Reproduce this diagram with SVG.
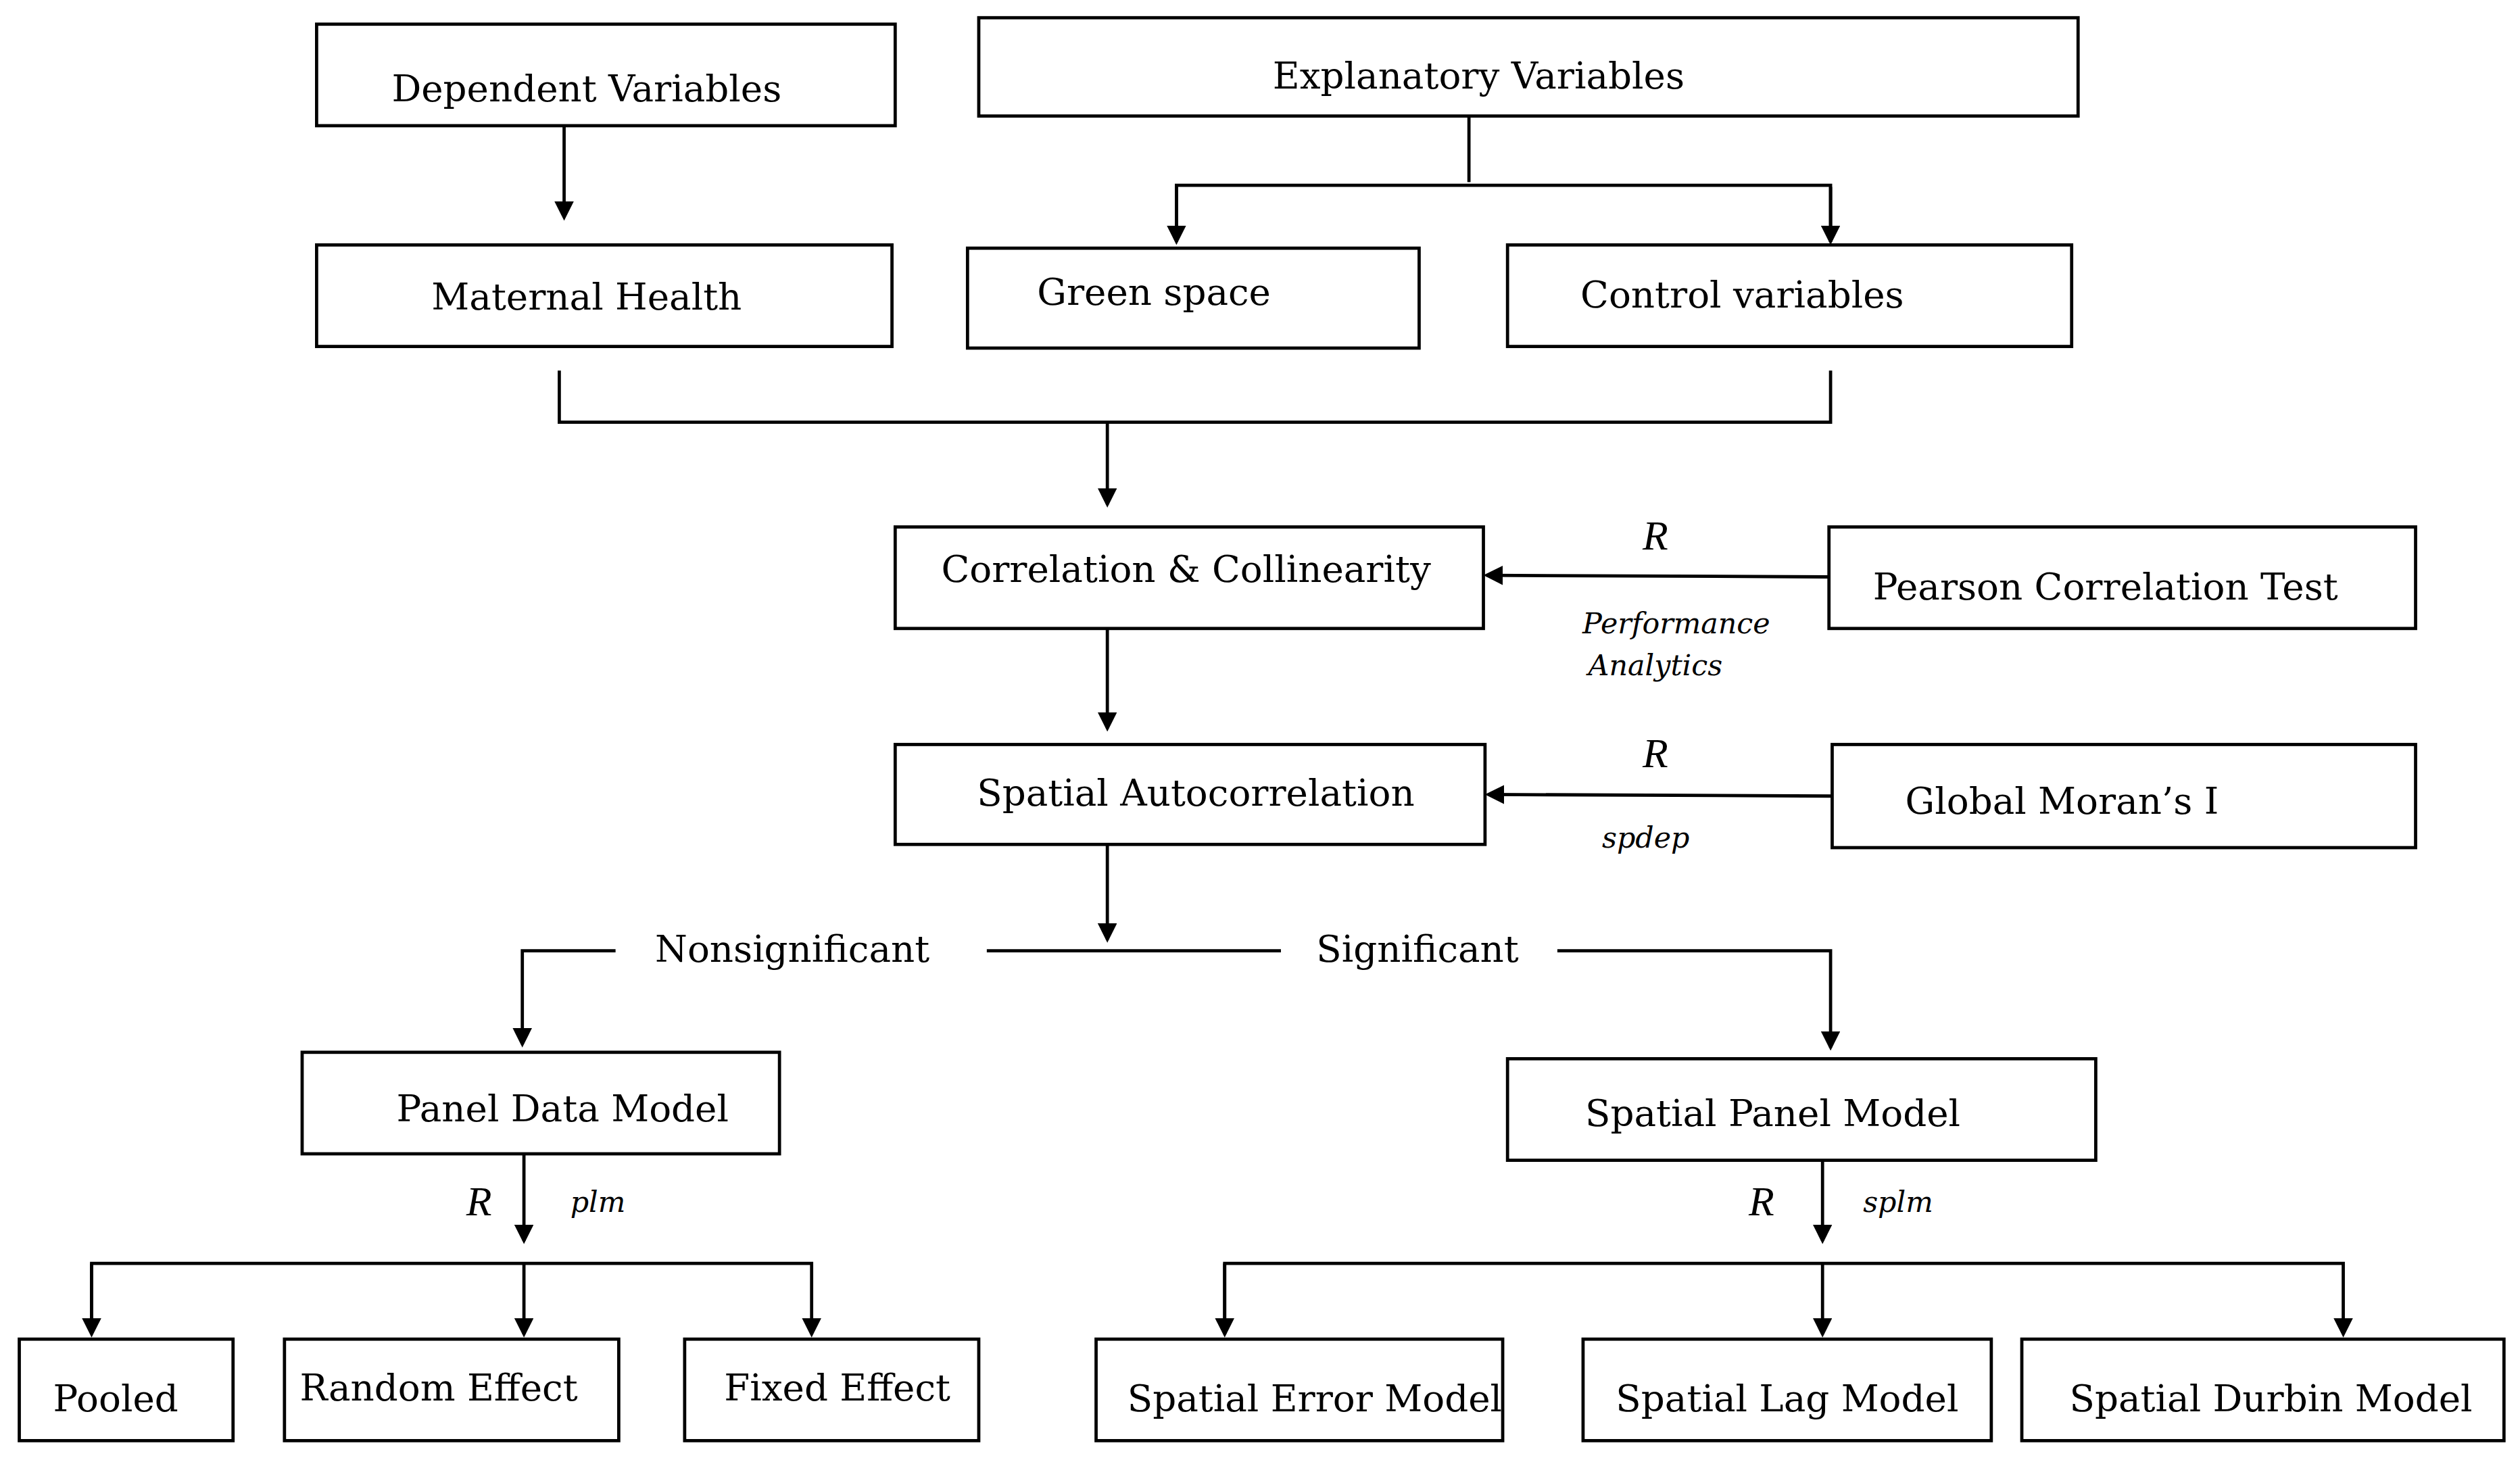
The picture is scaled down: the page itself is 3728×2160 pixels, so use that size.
<svg xmlns="http://www.w3.org/2000/svg" width="3728" height="2160" viewBox="0 0 3728 2160">
<style>
.b{fill:#fff;stroke:#000;stroke-width:2}
.t{font-family:"DejaVu Serif","Liberation Serif",serif;font-size:23px;fill:#000;text-anchor:middle}
.i{font-family:"DejaVu Serif","Liberation Serif",serif;font-style:italic;font-size:18px;fill:#000;text-anchor:middle}
.r{font-family:"Liberation Serif",serif;font-style:italic;font-size:26px;fill:#000;text-anchor:middle}
.c{fill:none;stroke:#000;stroke-width:2}
</style>
<defs><marker id="a" markerWidth="12" markerHeight="12" refX="10" refY="6" orient="auto" markerUnits="userSpaceOnUse"><path d="M0,0 L12,6 L0,12 Z" fill="#000"/></marker></defs>
<rect width="3728" height="2160" fill="#fff"/>
<g transform="scale(2.3776,2.3841)">
<g id="connectors">
<path class="c" d="M351,78 V135" marker-end="url(#a)"/>
<path class="c" d="M914,72 V113"/>
<path class="c" d="M732,150 V115 H1139 V150" />
<path class="c" d="M732,116 V150" marker-end="url(#a)"/>
<path class="c" d="M1139,116 V150" marker-end="url(#a)"/>
<path class="c" d="M348,230 V262 H1139 V230"/>
<path class="c" d="M689,262 V313" marker-end="url(#a)"/>
<path class="c" d="M1138,358 L925,357" marker-end="url(#a)"/>
<path class="c" d="M689,390 V452" marker-end="url(#a)"/>
<path class="c" d="M1140,494 L926,493" marker-end="url(#a)"/>
<path class="c" d="M689,524 V583" marker-end="url(#a)"/>
<path class="c" d="M383,590 H325 V648" marker-end="url(#a)"/>
<path class="c" d="M614,590 H797"/>
<path class="c" d="M969,590 H1139 V650" marker-end="url(#a)"/>
<path class="c" d="M326,716 V770" marker-end="url(#a)"/>
<path class="c" d="M57,828 V784 H505 V828" marker-end="url(#a)"/>
<path class="c" d="M57,784 V828" marker-end="url(#a)"/>
<path class="c" d="M326,784 V828" marker-end="url(#a)"/>
<path class="c" d="M1134,720 V770" marker-end="url(#a)"/>
<path class="c" d="M762,828 V784 H1458 V828" marker-end="url(#a)"/>
<path class="c" d="M762,784 V828" marker-end="url(#a)"/>
<path class="c" d="M1134,784 V828" marker-end="url(#a)"/>
<text class="r" x="1030" y="341">R</text>
<text class="i" x="1043" y="393">Performance</text>
<text class="i" x="1030" y="419">Analytics</text>
<text class="r" x="1030" y="476">R</text>
<text class="i" x="1024" y="526">spdep</text>
<text class="t" x="493" y="597">Nonsignificant</text>
<text class="t" x="882" y="597">Significant</text>
<text class="r" x="298" y="754">R</text>
<text class="i" x="372" y="752">plm</text>
<text class="r" x="1096" y="754">R</text>
<text class="i" x="1181" y="752">splm</text>
</g>
<g id="n1"><rect class="b" x="197" y="15" width="360" height="63"/><text class="t" x="365" y="63">Dependent Variables</text></g>
<g id="n2"><rect class="b" x="609" y="11" width="684" height="61"/><text class="t" x="920" y="55">Explanatory Variables</text></g>
<g id="n3"><rect class="b" x="197" y="152" width="358" height="63"/><text class="t" x="365" y="192">Maternal Health</text></g>
<g id="n4"><rect class="b" x="602" y="154" width="281" height="62"/><text class="t" x="718" y="189">Green space</text></g>
<g id="n5"><rect class="b" x="938" y="152" width="351" height="63"/><text class="t" x="1084" y="191">Control variables</text></g>
<g id="n6"><rect class="b" x="557" y="327" width="366" height="63"/><text class="t" x="738" y="361">Correlation &amp; Collinearity</text></g>
<g id="n7"><rect class="b" x="1138" y="327" width="365" height="63"/><text class="t" x="1310" y="372">Pearson Correlation Test</text></g>
<g id="n8"><rect class="b" x="557" y="462" width="367" height="62"/><text class="t" x="744" y="500">Spatial Autocorrelation</text></g>
<g id="n9"><rect class="b" x="1140" y="462" width="363" height="64"/><text class="t" x="1283" y="505">Global Moran’s I</text></g>
<g id="n10"><rect class="b" x="188" y="653" width="297" height="63"/><text class="t" x="350" y="696">Panel Data Model</text></g>
<g id="n11"><rect class="b" x="938" y="657" width="366" height="63"/><text class="t" x="1103" y="699">Spatial Panel Model</text></g>
<g id="n12"><rect class="b" x="12" y="831" width="133" height="63"/><text class="t" x="72" y="876">Pooled</text></g>
<g id="n13"><rect class="b" x="177" y="831" width="208" height="63"/><text class="t" x="273" y="869">Random Effect</text></g>
<g id="n14"><rect class="b" x="426" y="831" width="183" height="63"/><text class="t" x="521" y="869">Fixed Effect</text></g>
<g id="n15"><rect class="b" x="682" y="831" width="253" height="63"/><text class="t" x="818" y="876">Spatial Error Model</text></g>
<g id="n16"><rect class="b" x="985" y="831" width="254" height="63"/><text class="t" x="1112" y="876">Spatial Lag Model</text></g>
<g id="n17"><rect class="b" x="1258" y="831" width="300" height="63"/><text class="t" x="1413" y="876">Spatial Durbin Model</text></g>
</g>
</svg>
